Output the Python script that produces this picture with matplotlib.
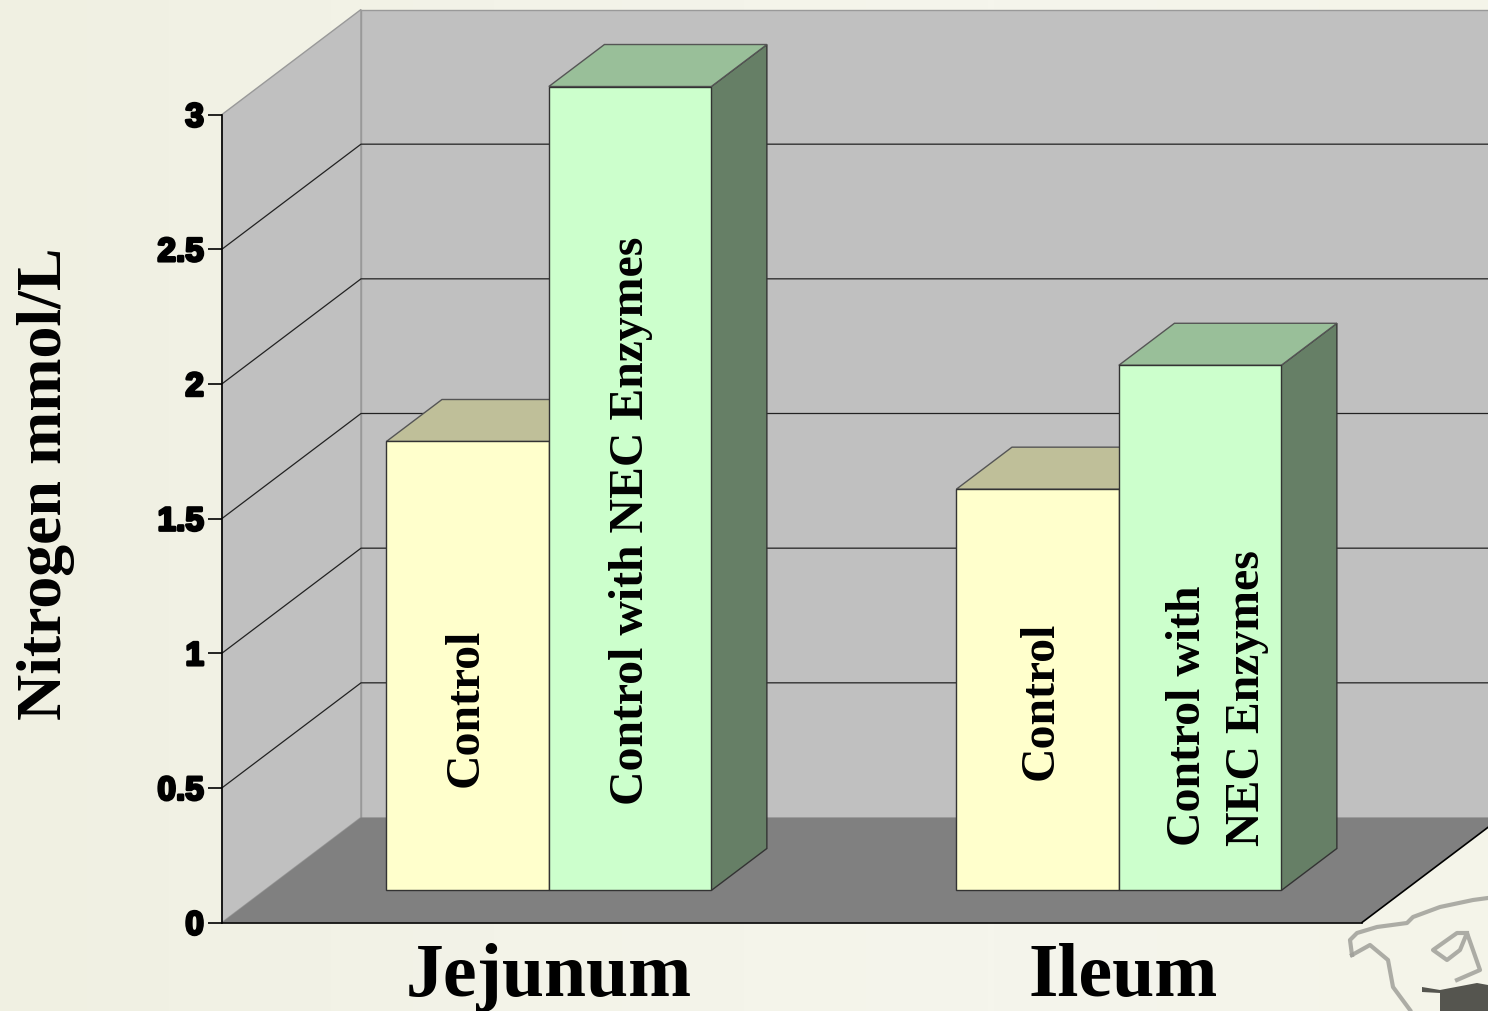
import numpy as np
import matplotlib
matplotlib.use('Agg')
import matplotlib.pyplot as plt
import matplotlib.patheffects as pe
from matplotlib.patches import Polygon
from matplotlib.colors import LinearSegmentedColormap

categories = ['Jejunum', 'Ileum']
control = [1.667, 1.49]
control_nec = [2.985, 1.95]
control_labels = ['Control', 'Control']
nec_labels = ['Control with NEC Enzymes', 'Control with\nNEC Enzymes']
y_ticks = [0, 0.5, 1, 1.5, 2, 2.5, 3]
y_tick_labels = ['0', '0.5', '1', '1.5', '2', '2.5', '3']

W, H = 1488, 1011
LEFT, RIGHT, BOTTOM, TOP = 222, 1362, 922.5, 114.5
fig = plt.figure(figsize=(W / 100, H / 100), dpi=100)
plt.rcParams['font.family'] = ['Liberation Serif', 'DejaVu Serif']

# slide background
bg = fig.add_axes([0, 0, 1, 1], zorder=0)
bg.set_xlim(0, W)
bg.set_ylim(H, 0)
bg.axis('off')
cmap = LinearSegmentedColormap.from_list('slide', ['#f0f0e2', '#f3f3e8', '#f5f5ec', '#f4f4e9'])
bg.imshow(np.linspace(0, 1, 256).reshape(1, -1), extent=(0, W, H, 0), aspect='auto', cmap=cmap)

# corner of the world map
map_style = dict(color='#a0a09a', lw=3, alpha=0.85, solid_joinstyle='round')
bg.plot([1352, 1350, 1357, 1377, 1407, 1413, 1440, 1473, 1488],
        [955, 940, 933, 927, 923, 917, 907, 900, 898], **map_style)
bg.plot([1352, 1370, 1388, 1393, 1410],
        [955, 945, 960, 987, 1010], **map_style)
bg.plot([1467, 1457, 1433, 1447, 1460, 1467, 1480, 1457],
        [933, 933, 950, 960, 950, 933, 970, 980], **map_style)
bg.add_patch(Polygon([[1422, 987], [1440, 990], [1477, 983], [1488, 985], [1488, 1011], [1440, 1011], [1440, 993], [1422, 992]],
                     closed=True, color='#55554f', lw=0))

# axes sit on the front plane of the 3d box
ax = fig.add_axes([LEFT / W, 1 - BOTTOM / H, (RIGHT - LEFT) / W, (BOTTOM - TOP) / H], zorder=1)
ax.patch.set_alpha(0)
ax.set_xlim(0, 2)
ax.set_ylim(0, 3)
DX = 139 / 570
DY = 105 / (808 / 3)
FRONT, BACK = 0.305, 0.705
BAR_W = 0.285
x_pos = np.arange(len(categories)) + 0.499


def pt(x, y, d=0.0):
    return [x + d * DX, y + d * DY]


def face(points, color, edge='#333333', lw=1.0, z=2):
    ax.add_patch(Polygon(points, closed=True, facecolor=color, edgecolor=edge, lw=lw, clip_on=False, zorder=z))


def bar3d(x0, h, front, top, side, z):
    x1 = x0 + BAR_W
    face([pt(x1, 0, FRONT), pt(x1, 0, BACK), pt(x1, h, BACK), pt(x1, h, FRONT)], side, z=z)
    face([pt(x0, h, FRONT), pt(x1, h, FRONT), pt(x1, h, BACK), pt(x0, h, BACK)], top, edge='#555555', z=z)
    face([pt(x0, 0, FRONT), pt(x1, 0, FRONT), pt(x1, h, FRONT), pt(x0, h, FRONT)], front, z=z + 0.1)


# walls and floor
face([pt(0, 0), pt(0, 0, 1), pt(0, 3, 1), pt(0, 3)], '#c0c0c0', edge='#999999', z=0.5)
face([pt(0, 0, 1), pt(2, 0, 1), pt(2, 3, 1), pt(0, 3, 1)], '#c0c0c0', edge='#999999', z=0.5)
face([pt(0, 0), pt(2, 0), pt(2, 0, 1), pt(0, 0, 1)], '#808080', edge='none', z=0.6)
ax.plot(*zip(pt(2, 0), pt(2, 0, 1)), color='black', lw=1.2, clip_on=False, zorder=0.7)

for t in y_ticks[1:]:
    if t < 3:
        ax.plot(*zip(pt(0, t), pt(0, t, 1), pt(2, t, 1)), color='#222222', lw=0.9, clip_on=False, zorder=0.8)

text_y_control = [0.679, 0.705]
text_y_nec = [1.374, 0.713]
text_dx_control = [-0.003, 0.005]
text_dx_nec = [0.001, 0.030]

for i, x in enumerate(x_pos):
    bar3d(x - BAR_W, control[i], '#ffffcc', '#bfbf99', '#7f7f66', 2)
    bar3d(x, control_nec[i], '#ccffcc', '#99bf99', '#667f66', 3)
    cx, cy = pt(x - BAR_W / 2 + text_dx_control[i], text_y_control[i], FRONT)
    ax.text(cx, cy, control_labels[i], rotation=90, ha='center', va='center',
            fontsize=34.4, fontweight='bold', color='black', zorder=5)
    cx, cy = pt(x + BAR_W / 2 + text_dx_nec[i], text_y_nec[i], FRONT)
    ax.text(cx, cy, nec_labels[i], rotation=90, ha='center', va='center', multialignment='left',
            fontsize=34.4, fontweight='bold', color='black', linespacing=1.45, zorder=5)

for s in ['top', 'right']:
    ax.spines[s].set_visible(False)
for s in ['left', 'bottom']:
    ax.spines[s].set_linewidth(1.2)
    ax.spines[s].set_zorder(4)

ax.set_yticks(y_ticks)
ax.set_yticklabels(y_tick_labels, family='Liberation Sans', fontweight='bold', fontsize=24,
                   path_effects=[pe.withStroke(linewidth=2, foreground='black')])
ax.tick_params(axis='y', length=10, width=1.2, pad=3)
ax.set_xticks([x_pos[0] + FRONT * DX, x_pos[1] + FRONT * DX + 0.008])
ax.set_xticklabels(categories, fontweight='bold', fontsize=54.5)
ax.tick_params(axis='x', length=0, pad=15)

fig.text(46 / W, 1 - 484 / H, 'Nitrogen mmol/L', rotation=90, ha='center', va='center',
         fontsize=46, fontweight='bold', color='black')

fig.savefig('out.png', dpi=100)
